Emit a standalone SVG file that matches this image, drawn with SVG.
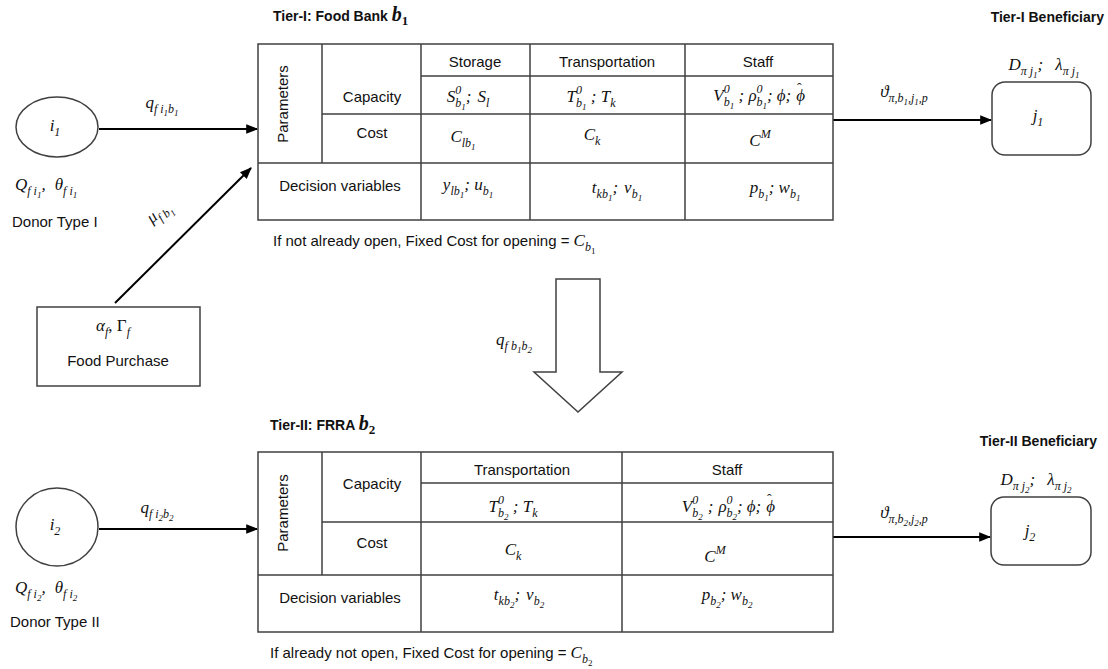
<svg xmlns="http://www.w3.org/2000/svg" width="1108" height="669" viewBox="0 0 1108 669">
<defs>
<style>
.t{font-family:"Liberation Sans",Arial,sans-serif;font-size:15px;fill:#111}
.b{font-weight:bold;font-size:14px}
.m{font-family:"Liberation Serif","DejaVu Serif",serif;font-style:italic;font-size:17px;fill:#111}
.c{text-anchor:middle}
.e{text-anchor:end}
.ln{stroke:#404040;stroke-width:1.5;fill:none}
.box{stroke:#404040;stroke-width:1.5;fill:#fff}
.arr{stroke:#000;stroke-width:2;fill:none;marker-end:url(#ah)}
</style>
<marker id="ah" viewBox="0 0 10 10" refX="9" refY="5" markerWidth="6" markerHeight="6" markerUnits="strokeWidth" orient="auto">
<path d="M0,1 L10,5 L0,9 z" fill="#000"/>
</marker>
</defs>
<rect width="1108" height="669" fill="#fff"/>

<g id="connectors">
<line class="arr" x1="99" y1="129" x2="257" y2="129"/>
<line class="arr" x1="115" y1="303" x2="251" y2="168"/>
<line class="arr" x1="833" y1="120" x2="991" y2="120"/>
<line class="arr" x1="99" y1="529" x2="257" y2="529"/>
<line class="arr" x1="833" y1="537" x2="990" y2="537"/>
<polygon id="bigArrow" class="ln" fill="#fff" points="556,279 600,279 600,372 622,372 578,412 534,372 556,372"/>
<text class="m c" x="162" y="108">q<tspan font-size="12" dy="5">f i</tspan><tspan font-size="9" dy="3">1</tspan><tspan font-size="12" dy="-3">b</tspan><tspan font-size="9" dy="3">1</tspan></text>
<text class="m" transform="translate(152,224) rotate(-40)">μ<tspan font-size="12" dy="5">f b</tspan><tspan font-size="9" dy="3">1</tspan></text>
<text class="m c" x="904" y="97">ϑ<tspan font-size="12" dy="5">π,b</tspan><tspan font-size="9" dy="3">1</tspan><tspan font-size="12" dy="-3">,j</tspan><tspan font-size="9" dy="3">1</tspan><tspan font-size="12" dy="-3">,p</tspan></text>
<text class="m c" x="157" y="513">q<tspan font-size="12" dy="5">f i</tspan><tspan font-size="9" dy="3">2</tspan><tspan font-size="12" dy="-3">b</tspan><tspan font-size="9" dy="3">2</tspan></text>
<text class="m c" x="904" y="518">ϑ<tspan font-size="12" dy="5">π,b</tspan><tspan font-size="9" dy="3">2</tspan><tspan font-size="12" dy="-3">,j</tspan><tspan font-size="9" dy="3">2</tspan><tspan font-size="12" dy="-3">,p</tspan></text>
<text class="m c" x="514" y="345">q<tspan font-size="12" dy="5">f b</tspan><tspan font-size="9" dy="3">1</tspan><tspan font-size="12" dy="-3">b</tspan><tspan font-size="9" dy="3">2</tspan></text>
</g>

<g id="donor1">
<ellipse class="box" cx="57" cy="127" rx="41" ry="30"/>
<text class="m c" x="55" y="131">i<tspan font-size="12" dy="5">1</tspan></text>
<text class="m" x="15" y="190">Q<tspan font-size="12" dy="5">f i</tspan><tspan font-size="9" dy="3">1</tspan><tspan dy="-8">,</tspan><tspan dx="9">θ</tspan><tspan font-size="12" dy="5">f i</tspan><tspan font-size="9" dy="3">1</tspan></text>
<text class="t" x="12" y="227">Donor Type I</text>
</g>

<g id="foodPurchase">
<rect class="box" x="37" y="307" width="163" height="79"/>
<text class="m c" x="113" y="331">α<tspan font-size="12" dy="5">f</tspan><tspan dy="-5" font-style="normal">, Γ</tspan><tspan font-size="12" dy="5">f</tspan></text>
<text class="t c" x="118" y="366">Food Purchase</text>
</g>

<g id="foodBank">
<text class="t b" x="273" y="21">Tier-I: Food Bank <tspan style="font-family:'Liberation Serif',serif;font-style:italic;font-size:20px">b</tspan><tspan style="font-family:'Liberation Serif',serif;font-size:13px" dy="4">1</tspan></text>
<rect class="ln" x="258" y="44" width="575" height="176"/>
<path class="ln" d="M322,44V163 M421,44V220 M530,44V220 M685,44V220 M421,76H833 M322,114H833 M258,163H833"/>
<text class="t c" transform="translate(288,104) rotate(-90)">Parameters</text>
<text class="t c" x="372" y="102">Capacity</text>
<text class="t c" x="372" y="138">Cost</text>
<text class="t c" x="340" y="191">Decision variables</text>
<text class="t c" x="475" y="67">Storage</text>
<text class="t c" x="607" y="67">Transportation</text>
<text class="t c" x="758" y="67">Staff</text>
<text class="m c" x="468" y="102">S<tspan font-size="12" dy="-8">0</tspan><tspan font-size="12" dx="-6" dy="13">b</tspan><tspan font-size="9" dy="3">1</tspan><tspan dy="-8">;</tspan><tspan dx="6">S</tspan><tspan font-size="12" dy="5">l</tspan></text>
<text class="m c" x="463" y="142">C<tspan font-size="12" dy="5">lb</tspan><tspan font-size="9" dy="3">1</tspan></text>
<text class="m c" x="468" y="190">y<tspan font-size="12" dy="5">lb</tspan><tspan font-size="9" dy="3">1</tspan><tspan dy="-8">; u</tspan><tspan font-size="12" dy="5">b</tspan><tspan font-size="9" dy="3">1</tspan></text>
<text class="m c" x="591" y="102">T<tspan font-size="12" dy="-8">0</tspan><tspan font-size="12" dx="-6" dy="13">b</tspan><tspan font-size="9" dy="3">1</tspan><tspan dy="-8"> ; T</tspan><tspan font-size="12" dy="5">k</tspan></text>
<text class="m c" x="592" y="140">C<tspan font-size="12" dy="5">k</tspan></text>
<text class="m c" x="617" y="193">t<tspan font-size="12" dy="5">kb</tspan><tspan font-size="9" dy="3">1</tspan><tspan dy="-8">;</tspan><tspan dx="6">v</tspan><tspan font-size="12" dy="5">b</tspan><tspan font-size="9" dy="3">1</tspan></text>
<text class="m e" x="805" y="101">V<tspan font-size="12" dy="-8">0</tspan><tspan font-size="12" dx="-6" dy="13">b</tspan><tspan font-size="9" dy="3">1</tspan><tspan dy="-8"> ; ρ</tspan><tspan font-size="12" dy="-8">0</tspan><tspan font-size="12" dx="-6" dy="13">b</tspan><tspan font-size="9" dy="3">1</tspan><tspan dy="-8">;</tspan><tspan dx="4">ϕ;</tspan><tspan dx="5">ϕ</tspan><tspan font-style="normal" font-size="14" dx="-8" dy="-8">ˆ</tspan></text>
<text class="m c" x="760" y="146">C<tspan font-size="12" dy="-8">M</tspan></text>
<text class="m c" x="775" y="193">p<tspan font-size="12" dy="5">b</tspan><tspan font-size="9" dy="3">1</tspan><tspan dy="-8">; w</tspan><tspan font-size="12" dy="5">b</tspan><tspan font-size="9" dy="3">1</tspan></text>
<text class="t" x="273" y="246">If not already open, Fixed Cost for opening = <tspan style="font-family:'Liberation Serif',serif;font-style:italic;font-size:17px">C</tspan><tspan style="font-family:'Liberation Serif',serif;font-style:italic;font-size:12px" dy="5">b</tspan><tspan style="font-family:'Liberation Serif',serif;font-size:9px" dy="3">1</tspan></text>
</g>

<g id="beneficiary1">
<text class="t b e" x="1104" y="22">Tier-I Beneficiary</text>
<text class="m c" x="1044" y="70">D<tspan font-size="12" dy="5">π j</tspan><tspan font-size="9" dy="3">1</tspan><tspan dy="-8">;</tspan><tspan dx="12">λ</tspan><tspan font-size="12" dy="5">π j</tspan><tspan font-size="9" dy="3">1</tspan></text>
<rect class="box" x="992" y="82" width="99" height="73" rx="13"/>
<text class="m c" x="1038" y="121">j<tspan font-size="12" dy="5">1</tspan></text>
</g>

<g id="donor2">
<ellipse class="box" cx="57" cy="527" rx="41" ry="39"/>
<text class="m c" x="55" y="530">i<tspan font-size="12" dy="5">2</tspan></text>
<text class="m" x="15" y="593">Q<tspan font-size="12" dy="5">f i</tspan><tspan font-size="9" dy="3">2</tspan><tspan dy="-8">,</tspan><tspan dx="9">θ</tspan><tspan font-size="12" dy="5">f i</tspan><tspan font-size="9" dy="3">2</tspan></text>
<text class="t" x="10" y="627">Donor Type II</text>
</g>

<g id="frra">
<text class="t b" x="270" y="430">Tier-II: FRRA <tspan style="font-family:'Liberation Serif',serif;font-style:italic;font-size:20px">b</tspan><tspan style="font-family:'Liberation Serif',serif;font-size:13px" dy="4">2</tspan></text>
<rect class="ln" x="258" y="452" width="575" height="180"/>
<path class="ln" d="M322,452V575 M421,452V632 M622,452V632 M421,483H833 M322,522H833 M258,575H833"/>
<text class="t c" transform="translate(288,513) rotate(-90)">Parameters</text>
<text class="t c" x="372" y="489">Capacity</text>
<text class="t c" x="372" y="548">Cost</text>
<text class="t c" x="340" y="603">Decision variables</text>
<text class="t c" x="522" y="475">Transportation</text>
<text class="t c" x="727" y="475">Staff</text>
<text class="m c" x="513" y="512">T<tspan font-size="12" dy="-8">0</tspan><tspan font-size="12" dx="-6" dy="13">b</tspan><tspan font-size="9" dy="3">2</tspan><tspan dy="-8"> ; T</tspan><tspan font-size="12" dy="5">k</tspan></text>
<text class="m c" x="513" y="555">C<tspan font-size="12" dy="5">k</tspan></text>
<text class="m c" x="519" y="600">t<tspan font-size="12" dy="5">kb</tspan><tspan font-size="9" dy="3">2</tspan><tspan dy="-8">;</tspan><tspan dx="6">v</tspan><tspan font-size="12" dy="5">b</tspan><tspan font-size="9" dy="3">2</tspan></text>
<text class="m e" x="775" y="512">V<tspan font-size="12" dy="-8">0</tspan><tspan font-size="12" dx="-6" dy="13">b</tspan><tspan font-size="9" dy="3">2</tspan><tspan dy="-8" dx="5">;</tspan><tspan dx="5">ρ</tspan><tspan font-size="12" dy="-8">0</tspan><tspan font-size="12" dx="-6" dy="13">b</tspan><tspan font-size="9" dy="3">2</tspan><tspan dy="-8">;</tspan><tspan dx="4">ϕ;</tspan><tspan dx="5">ϕ</tspan><tspan font-style="normal" font-size="14" dx="-8" dy="-8">ˆ</tspan></text>
<text class="m c" x="715" y="562">C<tspan font-size="12" dy="-8">M</tspan></text>
<text class="m c" x="727" y="600">p<tspan font-size="12" dy="5">b</tspan><tspan font-size="9" dy="3">2</tspan><tspan dy="-8">; w</tspan><tspan font-size="12" dy="5">b</tspan><tspan font-size="9" dy="3">2</tspan></text>
<text class="t" x="270" y="658">If already not open, Fixed Cost for opening = <tspan style="font-family:'Liberation Serif',serif;font-style:italic;font-size:17px">C</tspan><tspan style="font-family:'Liberation Serif',serif;font-style:italic;font-size:12px" dy="5">b</tspan><tspan style="font-family:'Liberation Serif',serif;font-size:9px" dy="3">2</tspan></text>
</g>

<g id="beneficiary2">
<text class="t b e" x="1097" y="446">Tier-II Beneficiary</text>
<text class="m c" x="1036" y="485">D<tspan font-size="12" dy="5">π j</tspan><tspan font-size="9" dy="3">2</tspan><tspan dy="-8">;</tspan><tspan dx="12">λ</tspan><tspan font-size="12" dy="5">π j</tspan><tspan font-size="9" dy="3">2</tspan></text>
<rect class="box" x="991" y="497" width="100" height="68" rx="13"/>
<text class="m c" x="1030" y="536">j<tspan font-size="12" dy="5">2</tspan></text>
</g>
</svg>
